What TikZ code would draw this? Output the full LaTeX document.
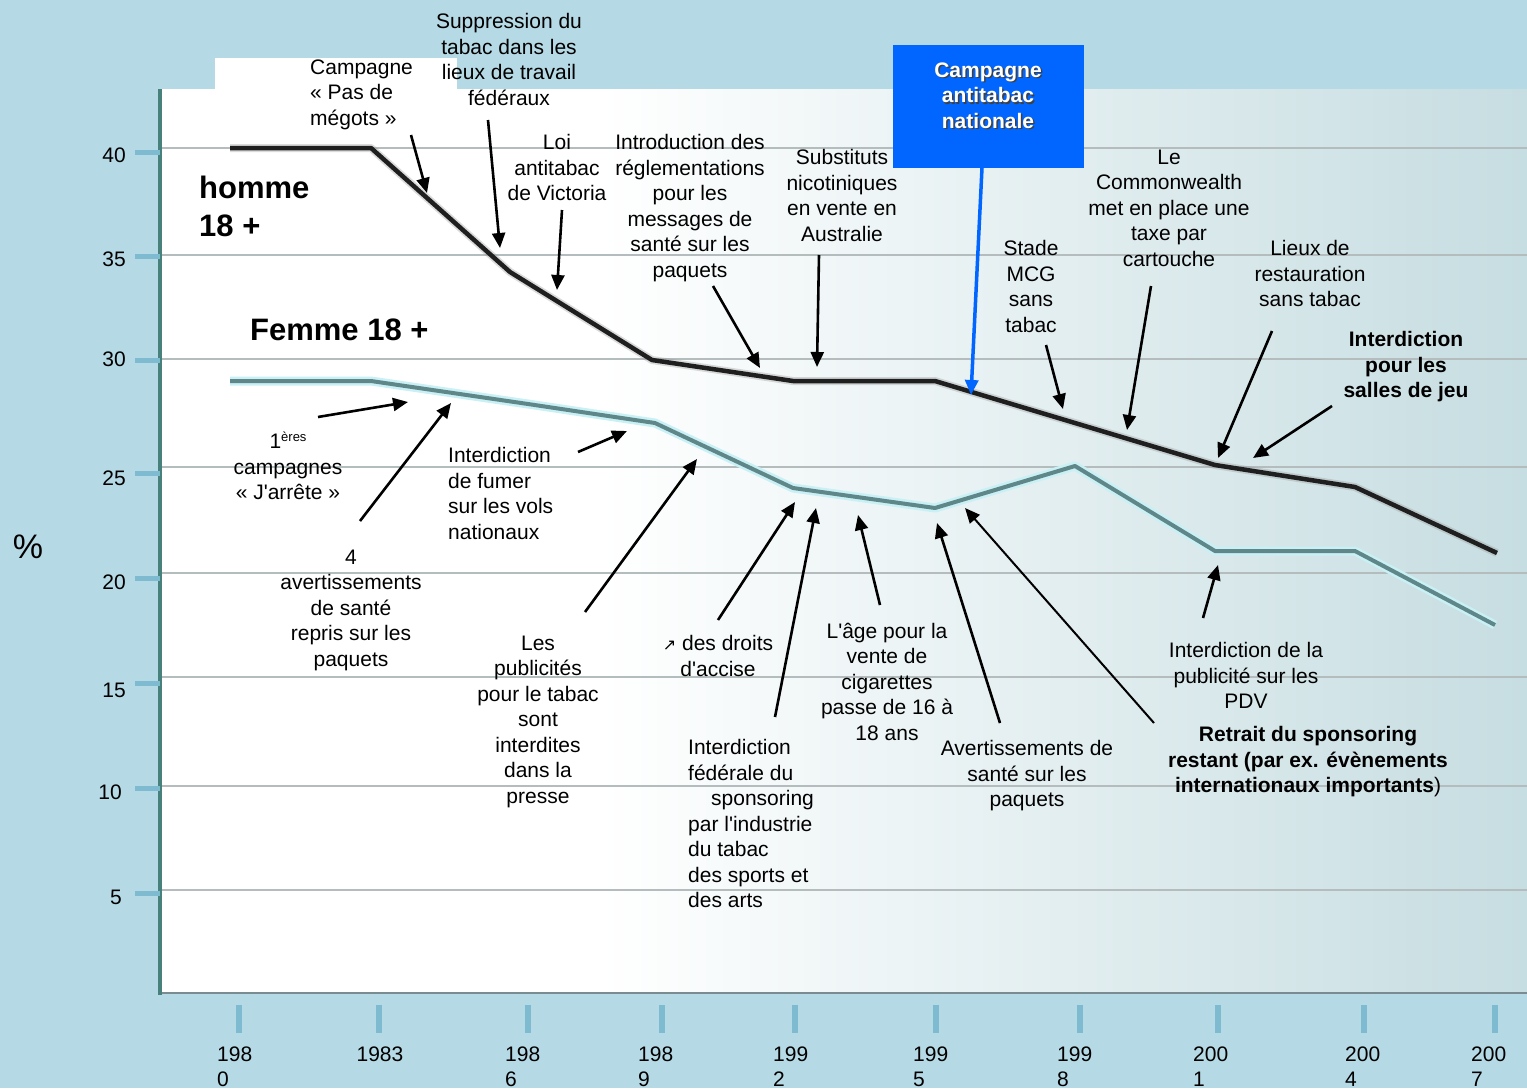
\documentclass[tikz,border=0pt]{standalone}
\usepackage{fontspec}
\setmainfont{Liberation Sans}
\newfontfamily\apfont{Liberation Sans}
\newcommand\ap{{\apfont'}}
\newfontfamily\symfont{DejaVu Sans}
\usetikzlibrary{arrows.meta}
\definecolor{bgblue}{RGB}{181,217,229}
\definecolor{plotright}{RGB}{198,221,225}
\definecolor{gridc}{RGB}{180,188,190}
\definecolor{tickc}{RGB}{127,187,208}
\definecolor{axisteal}{RGB}{72,128,124}
\definecolor{axisgray}{RGB}{120,140,145}
\definecolor{campblue}{RGB}{0,102,255}
\definecolor{femc}{RGB}{95,135,137}
\definecolor{femglow}{RGB}{200,240,245}
\tikzset{
  lbl/.style={font=\fontsize{21}{25.5}\selectfont, align=center, inner sep=0pt, anchor=north, text=black},
  lbll/.style={lbl, align=left, anchor=north west},
  blbl/.style={lbl, font=\fontsize{21}{25.5}\selectfont\bfseries},
  biglbl/.style={font=\fontsize{31}{38}\selectfont\bfseries, align=left, inner sep=0pt, anchor=north west},
  arr/.style={line width=2.6pt, black, -{Triangle[length=15pt,width=13pt]}},
  gridln/.style={draw=gridc, line width=2.5pt},
  ytick/.style={draw=tickc, line width=5pt},
  xtick/.style={draw=tickc, line width=6pt},
  ylab/.style={font=\fontsize{21}{25.5}\selectfont, inner sep=0pt, anchor=east},
  xlab/.style={font=\fontsize{21}{25.5}\selectfont, align=left, inner sep=0pt, anchor=north west},
}
\begin{document}
\begin{tikzpicture}[x=1pt,y=-1pt]
\useasboundingbox (0,0) rectangle (1527,1088);
\fill[bgblue] (0,0) rectangle (1527,1088);
% plot area
\fill[white] (158,89) rectangle (1527,993);
\shade[left color=white, right color=plotright] (600,89) rectangle (1527,993);
\fill[white] (215,58) rectangle (457,100);
% grid lines
\foreach \y in {148,255,359,467,573,677,786,890}
  \draw[gridln] (162,\y) -- (1527,\y);
% axes
\draw[axisgray, line width=2.5pt] (158,993) -- (1527,993);
\draw[axisteal, line width=4pt] (160,89) -- (160,995);
% y ticks
\foreach \y in {152,256,360,473,578,683,788,893}
  \draw[ytick] (135,\y) -- (160,\y);
\node[ylab] (y40) at (126,155) {40};
\node[ylab] (y35) at (126,259) {35};
\node[ylab] (y30) at (126,359) {30};
\node[ylab] (y25) at (126,478) {25};
\node[ylab] (y20) at (126,582) {20};
\node[ylab] (y15) at (126,690) {15};
\node[ylab] (y10) at (122,792) {10};
\node[ylab] (y5) at (122,897) {5};
\node[font=\fontsize{34}{34}\selectfont, inner sep=0pt] (pct) at (28,547) {\%};
% x ticks
\foreach \x in {239,379,528,662,795,936,1080,1218,1364,1495}
  \draw[xtick] (\x,1005) -- (\x,1033);
\node[xlab] (x80) at (217,1046.5) {198\\0};
\node[font=\fontsize{21}{25.5}\selectfont, inner sep=0pt] (x83) at (380,1054) {1983};
\node[xlab] (x86) at (505,1046.5) {198\\6};
\node[xlab] (x89) at (638,1046.5) {198\\9};
\node[xlab] (x92) at (773,1046.5) {199\\2};
\node[xlab] (x95) at (913,1046.5) {199\\5};
\node[xlab] (x98) at (1057,1046.5) {199\\8};
\node[xlab] (x01) at (1193,1046.5) {200\\1};
\node[xlab] (x04) at (1345,1046.5) {200\\4};
\node[xlab] (x07) at (1471,1046.5) {200\\7};
% data lines
\draw[femglow, line width=9pt, line join=round] (230,381) -- (371,381) -- (528,404) -- (655,423) -- (793,488) -- (935,508) -- (1075,466) -- (1215,551) -- (1355,551) -- (1495,625);
\draw[femc, line width=4pt, line join=round] (230,381) -- (371,381) -- (528,404) -- (655,423) -- (793,488) -- (935,508) -- (1075,466) -- (1215,551) -- (1355,551) -- (1495,625);
\draw[black!40, opacity=0.35, line width=8pt, line join=round] (230,148) -- (371,148) -- (510,272) -- (652,360) -- (793,381) -- (935,381) -- (1215,465) -- (1355,487) -- (1497,553);
\draw[black!88, line width=4.5pt, line join=round] (230,148) -- (371,148) -- (510,272) -- (652,360) -- (793,381) -- (935,381) -- (1215,465) -- (1355,487) -- (1497,553);
% series labels
\node[biglbl] (homme) at (199,176) {homme\\18 +};
\node[biglbl] (femme) at (250,319) {Femme 18 +};
% blue box
\node[fill=campblue, minimum width=191pt, minimum height=123pt, inner sep=0pt] (camp) at (988.5,106.5) {};
\node[blbl, text=black!75] at (989.5,64) {Campagne\\antitabac\\nationale};
\node[blbl, text=white] (camptext) at (988,62.5) {Campagne\\antitabac\\nationale};
% labels
\node[lbll] (t1) at (310,59.5) {Campagne\\« Pas de\\mégots »};
\node[lbl] (t2) at (509,13.5) {Suppression du\\tabac dans les\\lieux de travail\\fédéraux};
\node[lbl] (t3) at (557,134.5) {Loi\\antitabac\\de Victoria};
\node[lbl] (t4) at (690,134.5) {Introduction des\\réglementations\\pour les\\messages de\\santé sur les\\paquets};
\node[lbl] (t5) at (842,149.5) {Substituts\\nicotiniques\\en vente en\\Australie};
\node[lbl] (t7) at (1031,240.5) {Stade\\MCG\\sans\\tabac};
\node[lbl] (t8) at (1169,149.5) {Le\\Commonwealth\\met en place une\\taxe par\\cartouche};
\node[lbl] (t9) at (1310,240.5) {Lieux de\\restauration\\sans tabac};
\node[blbl] (t10) at (1406,331.5) {Interdiction\\pour les\\salles de jeu};
\node[lbl] (t11) at (288,432) {1\raisebox{7pt}{\fontsize{13}{13}\selectfont ères}\\campagnes\\« J\ap arrête »};
\node[lbl] (t12) at (351,549.5) {4\\avertissements\\de santé\\repris sur les\\paquets};
\node[lbll] (t13) at (448,447.5) {Interdiction\\de fumer\\sur les vols\\nationaux};
\node[lbl] (t14) at (538,635.5) {Les\\publicités\\pour le tabac\\sont\\interdites\\dans la\\presse};
\node[lbl] (t15) at (718,635.5) {{\symfont\fontsize{16}{16}\selectfont ↗} des droits\\d\ap accise};
\node[lbll] (t16) at (688,739.5) {Interdiction\\fédérale du\\\hspace*{23pt}sponsoring\\par l\ap industrie\\du tabac\\des sports et\\des arts};
\node[lbl] (t17) at (887,622.5) {L\ap âge pour la\\vente de\\cigarettes\\passe de 16 à\\18 ans};
\node[lbl] (t18) at (1027,740.5) {Avertissements de\\santé sur les\\paquets};
\node[lbl] (t20) at (1246,642.5) {Interdiction de la\\publicité sur les\\PDV};
\node[blbl] (t19) at (1308,726.5) {Retrait du sponsoring\\restant (par ex. évènements\\internationaux importants\mdseries)};
% arrow end points
\coordinate (a1s) at (411,135);  \coordinate (a1e) at (427,193);
\coordinate (a2s) at (488,120);  \coordinate (a2e) at (500,248);
\coordinate (a3s) at (562,210);  \coordinate (a3e) at (557,290);
\coordinate (a4s) at (713,286);  \coordinate (a4e) at (760,368);
\coordinate (a5s) at (819,255);  \coordinate (a5e) at (817,367);
\coordinate (a6s) at (982,168);  \coordinate (a6e) at (971,395);
\coordinate (a7s) at (1046,345); \coordinate (a7e) at (1063,409);
\coordinate (a8s) at (1151,286); \coordinate (a8e) at (1127,430);
\coordinate (a9s) at (1272,331); \coordinate (a9e) at (1218,458);
\coordinate (a10s) at (1332,406); \coordinate (a10e) at (1253,458);
\coordinate (a11s) at (318,417); \coordinate (a11e) at (408,402);
\coordinate (a12s) at (360,521); \coordinate (a12e) at (451,403);
\coordinate (a13s) at (578,452); \coordinate (a13e) at (627,431);
\coordinate (a14s) at (585,612); \coordinate (a14e) at (697,459);
\coordinate (a15s) at (718,620); \coordinate (a15e) at (795,502);
\coordinate (a16s) at (775,717); \coordinate (a16e) at (816,508);
\coordinate (a17s) at (880,605); \coordinate (a17e) at (858,515);
\coordinate (a18s) at (1000,723); \coordinate (a18e) at (937,523);
\coordinate (a19s) at (1154,723); \coordinate (a19e) at (965,508);
\coordinate (a20s) at (1203,618); \coordinate (a20e) at (1218,565);
% arrows
\foreach \i in {1,2,3,4,5,7,8,9,10,11,12,13,14,15,16,17,18,20}
  \draw[arr] (a\i s) -- (a\i e);
\draw[arr, line width=2pt] (a19s) -- (a19e);
\draw[arr, draw=campblue, fill=campblue, line width=3.5pt] (a6s) -- (a6e);
\end{tikzpicture}
\end{document}
